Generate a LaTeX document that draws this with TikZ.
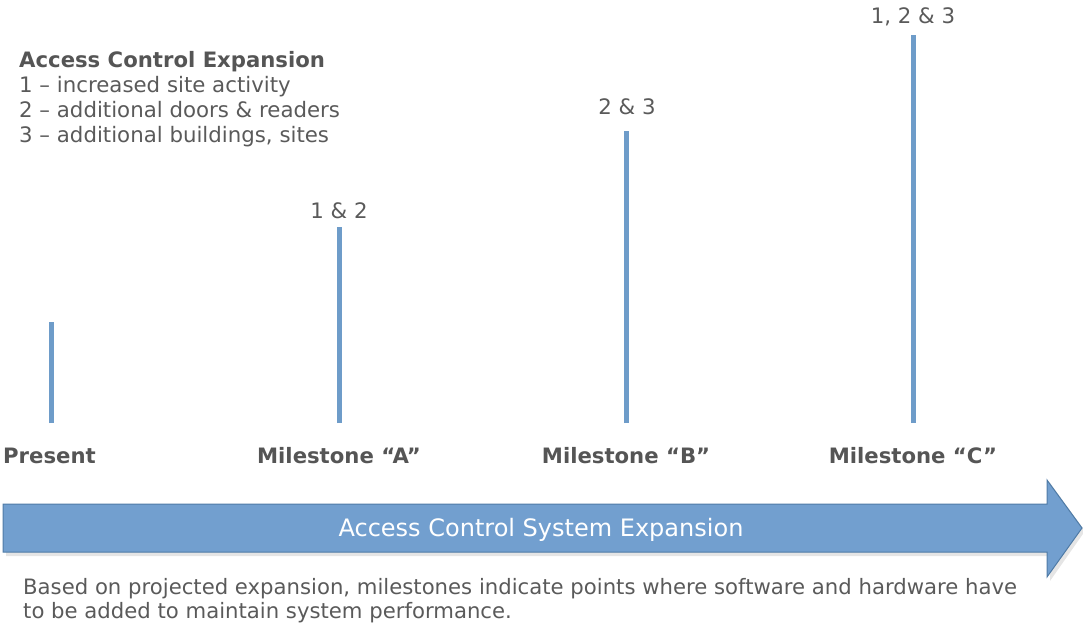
\documentclass[tikz,border=0pt]{standalone}
\usepackage{fontspec}
\setmainfont{DejaVu Sans}
\definecolor{barblue}{HTML}{6E9CC9}
\definecolor{arrowfill}{HTML}{729FCF}
\definecolor{arrowedge}{HTML}{4F7BA6}
\definecolor{txtgray}{HTML}{5A5A5A}
\definecolor{hdgray}{HTML}{555555}
\tikzset{
  bar/.style={draw=barblue, line width=5pt},
  legend/.style={anchor=base west, inner sep=0pt, text=txtgray, font=\fontsize{21.3}{24}\selectfont},
  legendhd/.style={legend, text=hdgray, font=\fontsize{21.2}{24}\selectfont\bfseries},
  barlabel/.style={anchor=base, inner sep=0pt, text=txtgray, font=\fontsize{21.3}{24}\selectfont},
  mslabel/.style={anchor=base, inner sep=0pt, text=hdgray, font=\fontsize{21.2}{24}\selectfont\bfseries},
  note/.style={anchor=base west, inner sep=0pt, text=txtgray, font=\fontsize{21.2}{24}\selectfont},
}
\begin{document}
\begin{tikzpicture}[x=1pt,y=-1pt]
\useasboundingbox (0,0) rectangle (1083,626);
% legend
\node[legendhd] (hd) at (19,67) {Access Control Expansion};
\node[legend] (l1) at (19,92) {1 – increased site activity};
\node[legend] (l2) at (19,117) {2 – additional doors \& readers};
\node[legend] (l3) at (19,142) {3 – additional buildings, sites};
% bars
\coordinate (p0) at (51,423); \coordinate (p1) at (51,322);
\coordinate (a0) at (339,423); \coordinate (a1) at (339,227);
\coordinate (b0) at (626,423); \coordinate (b1) at (626,131);
\coordinate (c0) at (913,423); \coordinate (c1) at (913,35);
\draw[bar] (p0) -- (p1);
\draw[bar] (a0) -- (a1);
\draw[bar] (b0) -- (b1);
\draw[bar] (c0) -- (c1);
\node[barlabel] (la) at (339,218) {1 \& 2};
\node[barlabel] (lb) at (627,114) {2 \& 3};
\node[barlabel] (lc) at (913,24) {1, 2 \& 3};
% milestone labels
\node[mslabel, anchor=base west] (mp) at (3,463) {Present};
\node[mslabel] (ma) at (339,463) {Milestone “A”};
\node[mslabel] (mb) at (626,463) {Milestone “B”};
\node[mslabel] (mc) at (913,463) {Milestone “C”};
% big arrow
\fill[black!10] (6,508) -- (1050,508) -- (1050,483) -- (1085,531) -- (1050,581) -- (1050,556) -- (6,556) -- cycle;
\draw[fill=arrowfill, draw=arrowedge, line width=1pt, line join=miter]
  (3,504) -- (1047,504) -- (1047,480) -- (1082,528) -- (1047,577) -- (1047,552) -- (3,552) -- cycle;
\node[anchor=base, inner sep=0pt, text=white, font=\fontsize{24}{28}\selectfont] (at) at (541,536) {Access Control System Expansion};
% note
\node[note] (n1) at (23,594) {Based on projected expansion, milestones indicate points where software and hardware have};
\node[note] (n2) at (23,618) {to be added to maintain system performance.};
\end{tikzpicture}
\end{document}
